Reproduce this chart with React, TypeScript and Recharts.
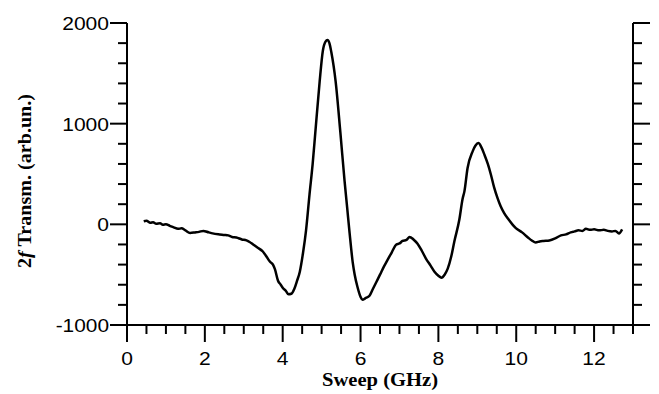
import React from "react";
import { LineChart, Line, XAxis, YAxis, Label } from "recharts";

const sweepGHz = [
  0.43, 0.5, 0.6, 0.67, 0.75, 0.85, 0.92, 1.0, 1.1, 1.2, 1.31, 1.4, 1.5, 1.62, 1.75, 1.85, 1.96, 2.1, 2.2, 2.38,
  2.5, 2.6, 2.7, 2.81, 2.95, 3.07, 3.15, 3.24, 3.35, 3.49, 3.6, 3.67, 3.75, 3.8, 3.88, 3.95, 4.0, 4.08, 4.15, 4.22,
  4.3, 4.37, 4.44, 4.52, 4.6, 4.69, 4.77, 4.84, 4.95, 5.03, 5.1, 5.15, 5.2, 5.25, 5.36, 5.48, 5.59, 5.66, 5.72, 5.8,
  5.85, 5.92, 6.0, 6.05, 6.12, 6.23, 6.32, 6.41, 6.5, 6.6, 6.67, 6.8, 6.92, 7.0, 7.08, 7.18, 7.26, 7.36, 7.46, 7.57,
  7.68, 7.8, 7.9, 8.0, 8.08, 8.16, 8.24, 8.33, 8.41, 8.54, 8.62, 8.67, 8.75, 8.88, 8.95, 9.03, 9.1, 9.18, 9.27, 9.35,
  9.43, 9.52, 9.6, 9.69, 9.8, 9.9, 9.99, 10.15, 10.3, 10.4, 10.5, 10.6, 10.7, 10.85, 11.0, 11.15, 11.28, 11.4, 11.5, 11.6,
  11.7, 11.79, 11.9, 12.0, 12.13, 12.25, 12.35, 12.46, 12.55, 12.64, 12.72,
];

const transm = [
  30, 35, 15, 20, 5, 10, -5, 0, -15, -30, -45, -40, -60, -85, -80, -75, -65, -80, -90, -100,
  -105, -110, -125, -130, -150, -160, -175, -200, -230, -270, -330, -370, -400, -445, -560, -600, -630, -660, -695, -690,
  -640, -560, -470, -290, -60, 300, 600, 920, 1420, 1720, 1815, 1830, 1800, 1710, 1420, 920, 430, 150, -90, -380,
  -500, -620, -720, -750, -735, -710, -640, -570, -500, -420, -370, -280, -200, -190, -165, -155, -125, -150, -190, -260,
  -340, -410, -470, -510, -530, -500, -440, -320, -170, 50, 250, 330, 560, 725, 780, 807, 770, 695, 600, 493,
  370, 261, 180, 112, 50, 0, -37, -80, -130, -160, -180, -170, -165, -160, -140, -110, -100, -80, -70, -60,
  -65, -45, -55, -50, -60, -55, -65, -70, -65, -90, -50,
];

const xTicks = [0, 0.5, 1, 1.5, 2, 2.5, 3, 3.5, 4, 4.5, 5, 5.5, 6, 6.5, 7, 7.5, 8, 8.5, 9, 9.5, 10, 10.5, 11, 11.5, 12, 12.5, 13];
const xMajor = [0, 2, 4, 6, 8, 10, 12];
const yTicks = [-1000, -800, -600, -400, -200, 0, 200, 400, 600, 800, 1000, 1200, 1400, 1600, 1800, 2000];
const yMajor = [-1000, 0, 1000, 2000];

const data = sweepGHz.map((x, i) => ({ x, v: transm[i] }));

const SANS = "'Liberation Sans', Arial, sans-serif";
const SERIF = "'Liberation Serif', 'Times New Roman', serif";
const MAJOR = 17;
const MINOR = 9;

const labelWidth = (s: string) => {
  let w = 0;
  for (const ch of s) w += ch === "-" ? 6.5 : 11.7;
  return w;
};

const BottomTick = (p: any) => {
  const major = xMajor.includes(p.payload.value);
  const s = String(p.payload.value);
  return (
    <g>
      <line x1={p.x} y1={p.y} x2={p.x} y2={p.y + (major ? MAJOR : MINOR)} stroke="#000" strokeWidth={2} />
      {major && (
        <text
          x={p.x}
          y={p.y + 40}
          textAnchor="middle"
          fontFamily={SANS}
          fontSize={19}
          fill="#000"
          textLength={labelWidth(s)}
          lengthAdjust="spacingAndGlyphs"
        >
          {s}
        </text>
      )}
    </g>
  );
};

const TopTick = (p: any) => {
  const major = xMajor.includes(p.payload.value);
  return <line x1={p.x} y1={p.y} x2={p.x} y2={p.y - (major ? MAJOR : MINOR)} stroke="#000" strokeWidth={2} />;
};

const LeftTick = (p: any) => {
  const major = yMajor.includes(p.payload.value);
  const s = String(p.payload.value);
  return (
    <g>
      <line x1={p.x} y1={p.y} x2={p.x - (major ? MAJOR : MINOR)} y2={p.y} stroke="#000" strokeWidth={2} />
      {major && (
        <text
          x={p.x - 18}
          y={p.y + 7}
          textAnchor="end"
          fontFamily={SANS}
          fontSize={19}
          fill="#000"
          textLength={labelWidth(s)}
          lengthAdjust="spacingAndGlyphs"
        >
          {s}
        </text>
      )}
    </g>
  );
};

const RightTick = (p: any) => {
  const major = yMajor.includes(p.payload.value);
  return <line x1={p.x} y1={p.y} x2={p.x + (major ? MAJOR : MINOR)} y2={p.y} stroke="#000" strokeWidth={2} />;
};

const XTitle = (props: any) => {
  const vb = props.viewBox;
  return (
    <text
      x={vb.x + vb.width / 2}
      y={386}
      textAnchor="middle"
      fontFamily={SERIF}
      fontWeight="bold"
      fontSize={19}
      fill="#000"
      textLength={116}
      lengthAdjust="spacingAndGlyphs"
    >
      Sweep (GHz)
    </text>
  );
};

const YTitle = () => {
  const cy = 181;
  return (
    <text
      x={31}
      y={cy}
      transform={`rotate(-90, 31, ${cy})`}
      textAnchor="middle"
      fontFamily={SERIF}
      fontWeight="bold"
      fontSize={19}
      fill="#000"
      textLength={174}
      lengthAdjust="spacingAndGlyphs"
    >
      2<tspan fontStyle="italic">f</tspan> Transm. (arb.un.)
    </text>
  );
};

const axisLine = { stroke: "#000", strokeWidth: 2 };

export default function App() {
  return (
    <div style={{ position: "absolute", left: 0, top: 0, width: 659, height: 394, background: "#fff" }}>
      <LineChart width={659} height={394} data={data} margin={{ top: 23, right: 0, bottom: 0, left: 0 }}>
        <XAxis
          xAxisId="b"
          dataKey="x"
          type="number"
          domain={[0, 13]}
          ticks={xTicks}
          interval={0}
          tickSize={0}
          tickMargin={0}
          tickLine={false}
          tick={BottomTick}
          axisLine={axisLine}
          height={69}
          orientation="bottom"
        >
          <Label content={XTitle} />
        </XAxis>
        <XAxis
          xAxisId="t"
          dataKey="x"
          type="number"
          domain={[0, 13]}
          ticks={xTicks}
          interval={0}
          tickSize={0}
          tickMargin={0}
          tickLine={false}
          tick={TopTick}
          axisLine={axisLine}
          height={0}
          orientation="top"
        />
        <YAxis
          yAxisId="l"
          type="number"
          domain={[-1000, 2000]}
          ticks={yTicks}
          interval={0}
          tickSize={0}
          tickMargin={0}
          tickLine={false}
          tick={LeftTick}
          axisLine={axisLine}
          width={127}
          orientation="left"
        >
          <Label content={YTitle} />
        </YAxis>
        <YAxis
          yAxisId="r"
          type="number"
          domain={[-1000, 2000]}
          ticks={yTicks}
          interval={0}
          tickSize={0}
          tickMargin={0}
          tickLine={false}
          tick={RightTick}
          axisLine={axisLine}
          width={26}
          orientation="right"
        />
        <Line
          xAxisId="t"
          yAxisId="r"
          dataKey="v"
          stroke="none"
          dot={false}
          isAnimationActive={false}
        />
        <Line
          xAxisId="b"
          yAxisId="l"
          dataKey="v"
          type="monotone"
          stroke="#000"
          strokeWidth={2.5}
          dot={false}
          isAnimationActive={false}
        />
      </LineChart>
    </div>
  );
}
